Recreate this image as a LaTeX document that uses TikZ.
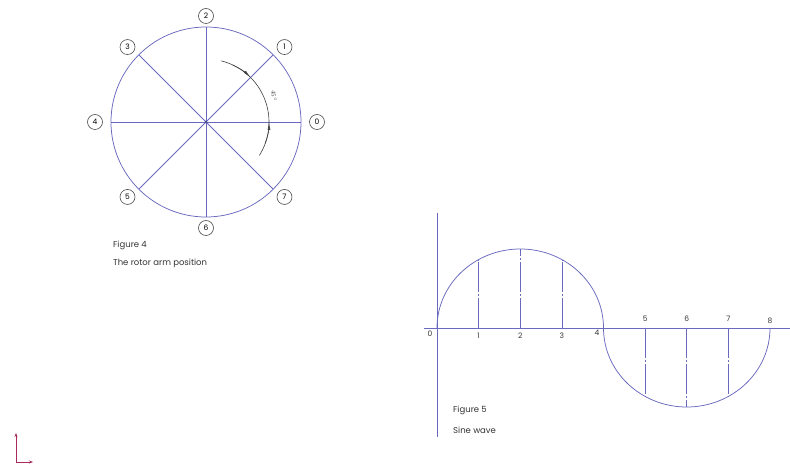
\documentclass[tikz,border=0pt]{standalone}
\usepackage{fontspec}
\setmainfont{Poppins}
\usetikzlibrary{arrows.meta}

\definecolor{wire}{RGB}{105,105,190}
\definecolor{axred}{RGB}{170,40,90}

\begin{document}
\begin{tikzpicture}[x=1pt,y=1pt,font=\fontsize{8.5}{10}\selectfont,>=Stealth,
  ln/.style={wire,line width=0.75pt},
  cl/.style={ln,dash pattern=on 30pt off 2pt on 2pt off 2pt},
  dim/.style={black!75,line width=0.6pt},
  posno/.style={circle,draw=black!70,line width=0.6pt,inner sep=0pt,
    minimum size=15pt,font=\fontsize{7.5}{8}\selectfont},
  num/.style={font=\fontsize{7.5}{8}\selectfont,text=black!80,inner sep=1pt},
  caption/.style={anchor=west,text=black!80,inner sep=0pt},
]
\useasboundingbox (0,0) rectangle (790,466);

% ============================================================
% Figure 4: rotor arm positions
% ============================================================
\begin{scope}
  \def\R{95}
  \coordinate (ctr) at (206,344);

  % Rotor circle
  \draw[ln] (ctr) circle (\R);

  % Arm positions and their numbers
  \foreach \k in {0,...,7}{
    \path (ctr) ++(\k*45:\R) coordinate (p\k);
    \path (ctr) ++(\k*45:111 and 106) node[posno] (l\k) {\k};
  }
  \draw[ln] (p0) -- (p4);
  \draw[ln] (p1) -- (p5);
  \draw[ln] (p2) -- (p6);
  \draw[ln] (p3) -- (p7);
  \fill[wire!70!black] (ctr) circle (1.3);

  % Angle between two arm positions
  \draw[dim] (ctr) ++(76:63) arc[start angle=76,end angle=-32,radius=63];
  \draw[dim,-{Latex[length=8pt,width=2.8pt]}]
    (ctr) ++(65:63) arc[start angle=65,end angle=45,radius=63];
  \draw[dim,-{Latex[length=8pt,width=2.8pt]}]
    (ctr) ++(-20:63) arc[start angle=-20,end angle=0,radius=63];
  \path (ctr) ++(21:73) node[num,rotate=-90,font=\fontsize{6}{7}\selectfont] (ang) {$45^{\circ}$};

  % Caption
  \node[caption] (f4) at (113,221) {Figure 4};
  \node[caption] (f4t) at (113,203) {The rotor arm position};
\end{scope}

% ============================================================
% Figure 5: sine wave
% ============================================================
\begin{scope}
  \def\q{41.625}
  \def\A{79}
  \coordinate (o) at (437,138);

  % Axes
  \draw[ln] (424,138) coordinate (xl) -- (790,138) coordinate (xr);
  \draw[ln] (437,253) coordinate (yt) -- (437,29) coordinate (yb);

  % Wave
  \draw[ln] (o) arc[start angle=180,end angle=0,x radius=2*\q,y radius=\A]
    arc[start angle=180,end angle=360,x radius=2*\q,y radius=\A];

  % Ordinates
  \foreach \k in {1,2,3}{
    \pgfmathsetmacro\h{\A*sqrt(1-((\k-2)/2)^2)}
    \draw[cl] (o) ++(\k*\q,0) coordinate (t\k) -- ++(0,\h);
    \draw[cl] (o) ++(\k*\q+4*\q,0) coordinate (b\k) -- ++(0,-\h);
  }

  % Division numbers
  \node[num] (n0) at (430,132) {0};
  \foreach \k in {1,2,3}
    \node[num] (n\k) at (437+\k*\q,130) {\k};
  \node[num] (n4) at (597,133) {4};
  \foreach \k in {5,6,7}
    \node[num] (n\k) at (437+\k*\q,147) {\k};
  \node[num] (n8) at (770,145) {8};

  % Caption
  \node[caption] (f5) at (453,56) {Figure 5};
  \node[caption] (f5t) at (453,36) {Sine wave};
\end{scope}

% Axis marker
\coordinate (ax0) at (16,4);
\draw[axred,line width=0.8pt,-{Stealth[length=4pt,width=3pt]}] (ax0) -- (16,33);
\draw[axred,line width=0.8pt,-{Stealth[length=4pt,width=3pt]}] (ax0) -- (33,4);

\end{tikzpicture}
\end{document}
